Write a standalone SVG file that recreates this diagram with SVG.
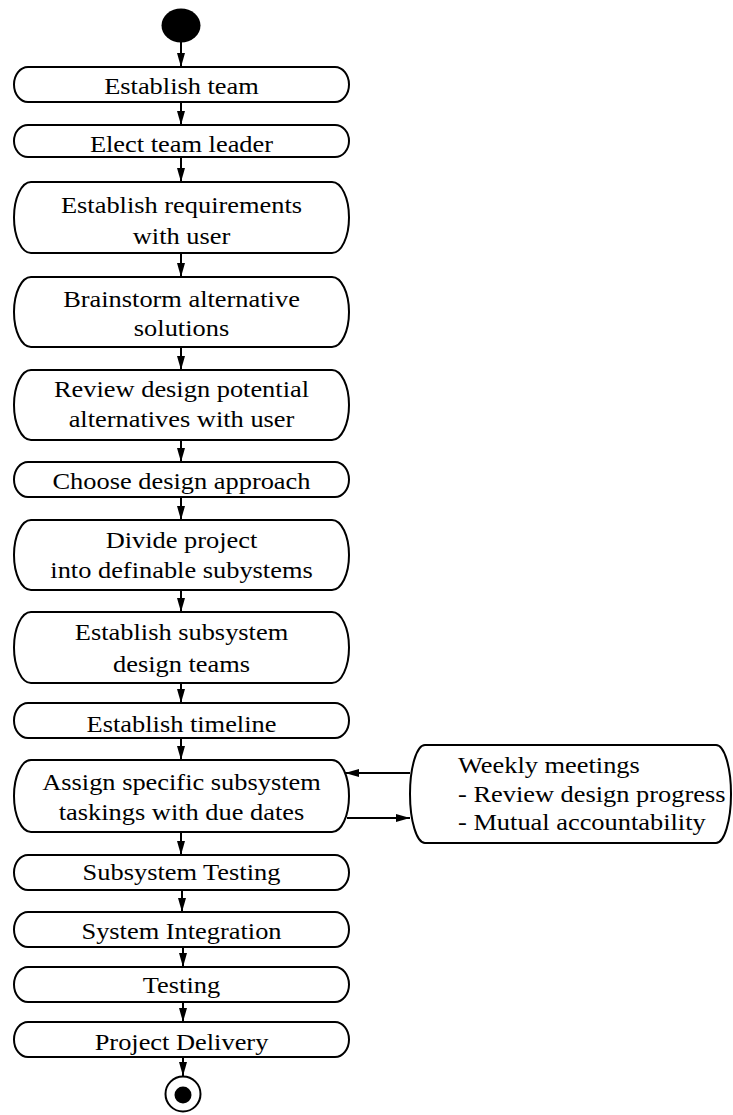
<svg xmlns="http://www.w3.org/2000/svg" width="733" height="1115" viewBox="0 0 733 1115">
<style>
.box{fill:#fff;stroke:#000;stroke-width:2}
.t{font-family:"Liberation Serif","Times New Roman",serif;font-size:24px;fill:#000;text-anchor:middle}
.tl{font-family:"Liberation Serif","Times New Roman",serif;font-size:24px;fill:#000;text-anchor:start}
.c{stroke:#000;stroke-width:2;fill:none;marker-end:url(#ah)}
</style>
<defs>
<marker id="ah" viewBox="0 0 14 8" refX="14" refY="4" markerWidth="14" markerHeight="8" markerUnits="userSpaceOnUse" orient="auto">
<path d="M0,0 L14,4 L0,8 z" fill="#000"/>
</marker>
</defs>
<rect width="733" height="1115" fill="#fff"/>
<g id="connectors">
<line class="c" x1="181" y1="42" x2="181" y2="67"/>
<line class="c" x1="181" y1="102" x2="181" y2="125"/>
<line class="c" x1="181" y1="157" x2="181" y2="182"/>
<line class="c" x1="181" y1="253" x2="181" y2="277"/>
<line class="c" x1="181" y1="347" x2="181" y2="370"/>
<line class="c" x1="181" y1="440" x2="181" y2="462"/>
<line class="c" x1="181" y1="497" x2="181" y2="520"/>
<line class="c" x1="181" y1="590" x2="181" y2="612"/>
<line class="c" x1="181" y1="683" x2="181" y2="703"/>
<line class="c" x1="181" y1="738" x2="181" y2="760"/>
<line class="c" x1="181" y1="832" x2="181" y2="855"/>
<line class="c" x1="182" y1="890" x2="182" y2="912"/>
<line class="c" x1="183" y1="947" x2="183" y2="967"/>
<line class="c" x1="183" y1="1002" x2="183" y2="1022"/>
<line class="c" x1="183" y1="1057" x2="183" y2="1076"/>
<line class="c" x1="410" y1="773" x2="345" y2="773"/>
<line class="c" x1="347" y1="818" x2="410" y2="818"/>
</g>
<g id="start"><ellipse cx="181" cy="25.5" rx="19.5" ry="17" fill="#000"/></g>
<g id="n1"><rect class="box" x="14" y="67" width="335" height="35" rx="14" ry="17.5"/><text class="t" transform="translate(181.5,94) scale(1.1,1)">Establish team</text></g>
<g id="n2"><rect class="box" x="14" y="125" width="335" height="32" rx="14" ry="16"/><text class="t" transform="translate(181.5,152) scale(1.1,1)">Elect team leader</text></g>
<g id="n3"><rect class="box" x="14" y="182" width="335" height="71" rx="17" ry="35.5"/><text class="t" transform="translate(181.5,213) scale(1.1,1)">Establish requirements</text><text class="t" transform="translate(181.5,244) scale(1.1,1)">with user</text></g>
<g id="n4"><rect class="box" x="14" y="277" width="335" height="70" rx="17" ry="35"/><text class="t" transform="translate(181.5,306.5) scale(1.1,1)">Brainstorm alternative</text><text class="t" transform="translate(181.5,336) scale(1.1,1)">solutions</text></g>
<g id="n5"><rect class="box" x="14" y="370" width="335" height="70" rx="17" ry="35"/><text class="t" transform="translate(181.5,396.5) scale(1.1,1)">Review design potential</text><text class="t" transform="translate(181.5,426.5) scale(1.1,1)">alternatives with user</text></g>
<g id="n6"><rect class="box" x="14" y="462" width="335" height="35" rx="14" ry="17.5"/><text class="t" transform="translate(181.5,489) scale(1.1,1)">Choose design approach</text></g>
<g id="n7"><rect class="box" x="14" y="520" width="335" height="70" rx="17" ry="35"/><text class="t" transform="translate(181.5,548) scale(1.1,1)">Divide project</text><text class="t" transform="translate(181.5,578) scale(1.1,1)">into definable subystems</text></g>
<g id="n8"><rect class="box" x="14" y="612" width="335" height="71" rx="17" ry="35.5"/><text class="t" transform="translate(181.5,640) scale(1.1,1)">Establish subsystem</text><text class="t" transform="translate(181.5,671.5) scale(1.1,1)">design teams</text></g>
<g id="n9"><rect class="box" x="14" y="703" width="335" height="35" rx="14" ry="17.5"/><text class="t" transform="translate(181.5,731.5) scale(1.1,1)">Establish timeline</text></g>
<g id="n10"><rect class="box" x="14" y="760" width="335" height="72" rx="17" ry="36"/><text class="t" transform="translate(181.5,790) scale(1.1,1)">Assign specific subsystem</text><text class="t" transform="translate(181.5,820) scale(1.1,1)">taskings with due dates</text></g>
<g id="n11"><rect class="box" x="14" y="855" width="335" height="35" rx="14" ry="17.5"/><text class="t" transform="translate(181.5,880) scale(1.1,1)">Subsystem Testing</text></g>
<g id="n12"><rect class="box" x="14" y="912" width="335" height="35" rx="14" ry="17.5"/><text class="t" transform="translate(181.5,939) scale(1.1,1)">System Integration</text></g>
<g id="n13"><rect class="box" x="14" y="967" width="335" height="35" rx="14" ry="17.5"/><text class="t" transform="translate(181.5,993) scale(1.1,1)">Testing</text></g>
<g id="n14"><rect class="box" x="14" y="1022" width="335" height="35" rx="14" ry="17.5"/><text class="t" transform="translate(181.5,1050) scale(1.1,1)">Project Delivery</text></g>
<g id="meetings"><rect class="box" x="410" y="745" width="321" height="98" rx="15" ry="49"/><text class="tl" transform="translate(458,772.5) scale(1.1,1)">Weekly meetings</text><text class="tl" transform="translate(458,801.5) scale(1.1,1)">- Review design progress</text><text class="tl" transform="translate(458,830) scale(1.1,1)">- Mutual accountability</text></g>
<g id="end"><circle cx="183" cy="1094" r="17.5" fill="#fff" stroke="#000" stroke-width="2"/><circle cx="183" cy="1095" r="8.5" fill="#000"/></g>
</svg>
